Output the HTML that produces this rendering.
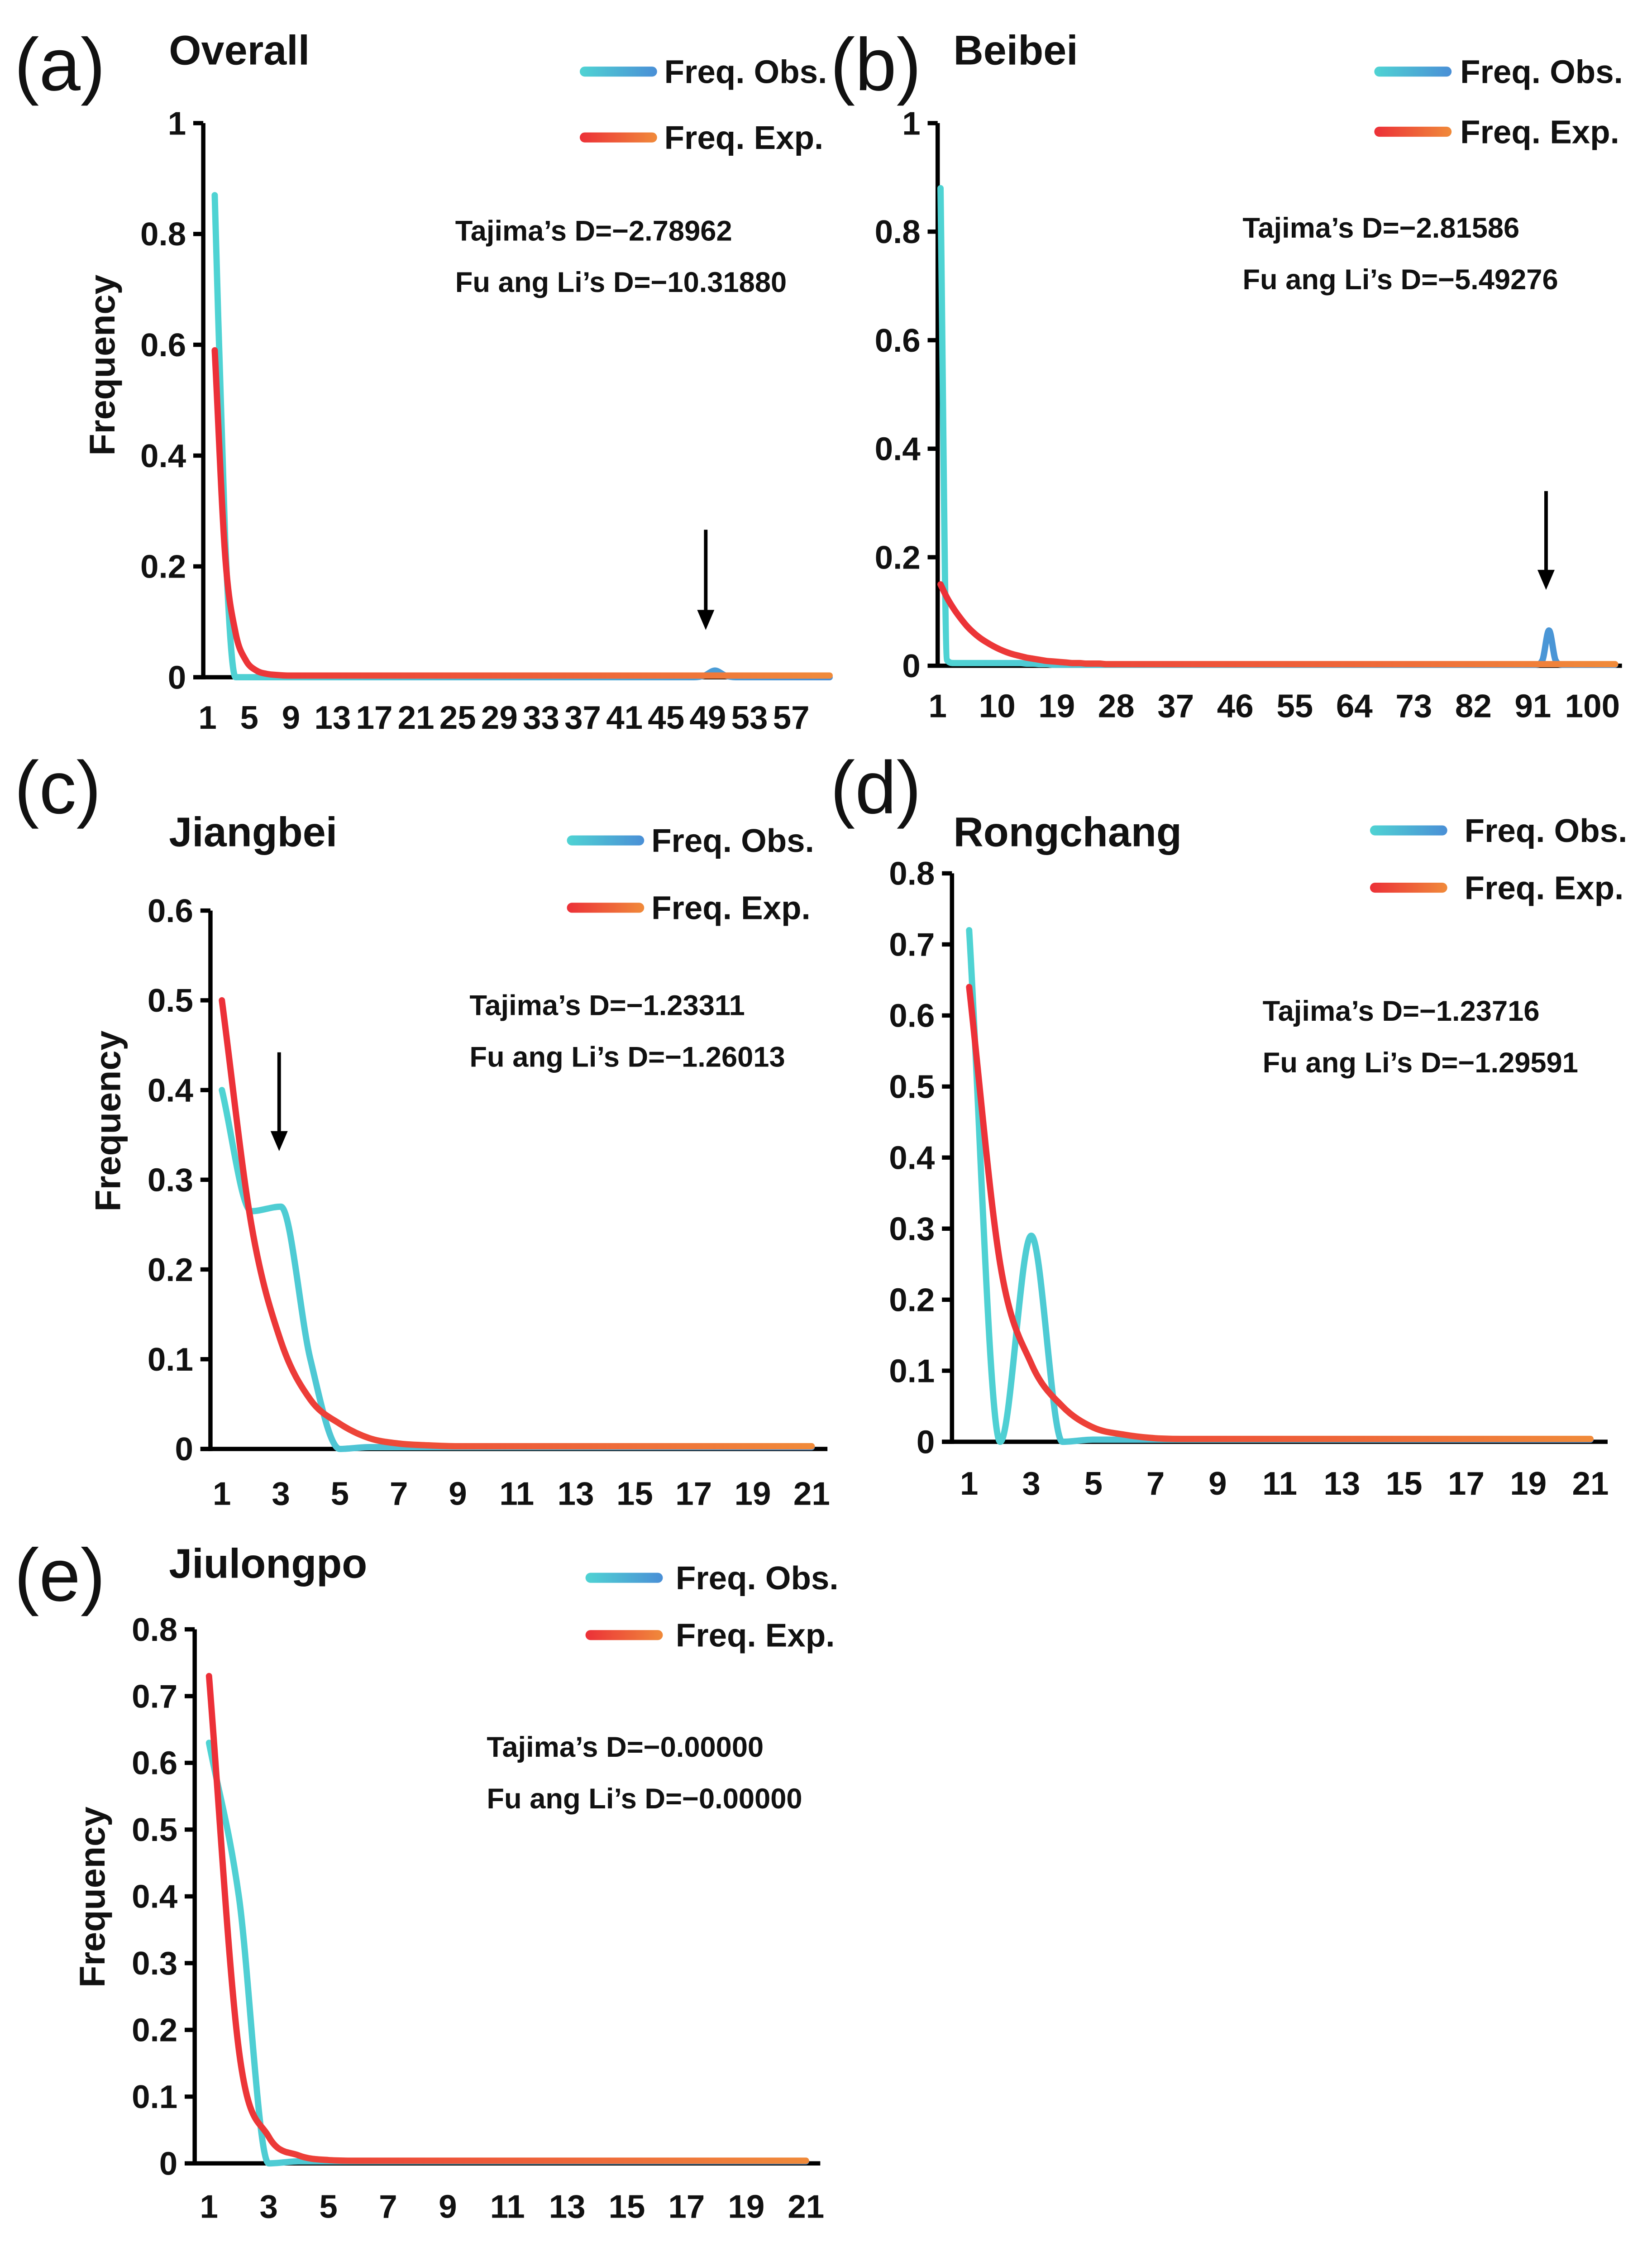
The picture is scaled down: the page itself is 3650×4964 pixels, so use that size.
<!DOCTYPE html>
<html><head><meta charset="utf-8"><style>
html,body{margin:0;padding:0;background:#fff;}
svg{display:block;}
text{font-family:"Liberation Sans",Arial,sans-serif;fill:#111;}
.tick{font-size:23px;font-weight:bold;}
.title{font-size:29px;font-weight:bold;}
.panel{font-size:52px;}
.leg{font-size:23px;font-weight:bold;}
.stat{font-size:20px;font-weight:bold;}
.ylab{font-size:25px;font-weight:bold;}
</style></head><body>
<svg id="fig" width="3650" height="4964" viewBox="0 0 1154 1569.4" preserveAspectRatio="none" xmlns="http://www.w3.org/2000/svg">
<defs>
<linearGradient id="gObs" x1="0" x2="1" y1="0" y2="0"><stop offset="0" stop-color="#4fd3d3"/><stop offset="1" stop-color="#4a8fd6"/></linearGradient>
<linearGradient id="gExp" x1="0" x2="1" y1="0" y2="0"><stop offset="0" stop-color="#ec3038"/><stop offset="1" stop-color="#f08a3a"/></linearGradient>
</defs>
</svg>
<script>
// ---- data ----
const obsA=[0.87,0.25,0,0,0,0,0,0,0,0,0,0,0,0,0,0,0,0,0,0,0,0,0,0,0,0,0,0,0,0,0,0,0,0,0,0,0,0,0,0,0,0,0,0,0,0,0,0.003,0.012,0.003,0,0,0,0,0,0,0,0,0,0];
const expA=[0.59,0.22,0.08,0.03,0.012,0.006,0.004,0.003,0.003,0.003,0.003,0.003,0.003,0.003,0.003,0.003,0.003,0.003,0.003,0.003,0.003,0.003,0.003,0.003,0.003,0.003,0.003,0.003,0.003,0.003,0.003,0.003,0.003,0.003,0.003,0.003,0.003,0.003,0.003,0.003,0.003,0.003,0.003,0.003,0.003,0.003,0.003,0.003,0.003,0.003,0.003,0.003,0.003,0.003,0.003,0.003,0.003,0.003,0.003,0.003];
const ticksXA=["1","5","9","13","17","21","25","29","33","37","41","45","49","53","57"];
const obsB=[0.88,0.01,0.005,0.005,0.005,0.005,0.005,0.005,0.005,0.005,0.005,0.005,0.005,0.004,0.004,0.003,0.003,0.002,0.002,0.002,0.002,0.002,0.002,0.002,0.002,0.002,0.002,0.002,0.002,0.002,0.002,0.002,0.002,0.002,0.002,0.002,0.002,0.002,0.002,0.002,0.002,0.002,0.002,0.002,0.002,0.002,0.002,0.002,0.002,0.002,0.002,0.002,0.002,0.002,0.002,0.002,0.002,0.002,0.002,0.002,0.002,0.002,0.002,0.002,0.002,0.002,0.002,0.002,0.002,0.002,0.002,0.002,0.002,0.002,0.002,0.002,0.002,0.002,0.002,0.002,0.002,0.002,0.002,0.002,0.002,0.002,0.002,0.002,0.002,0.002,0.002,0.01,0.065,0.01,0.002,0.002,0.002,0.002,0.002,0.002,0.002,0.002,0.002];
const expB=[0.15,0.125,0.105,0.088,0.073,0.061,0.051,0.043,0.036,0.030,0.025,0.021,0.018,0.015,0.013,0.011,0.009,0.008,0.007,0.006,0.005,0.005,0.004,0.004,0.004,0.003,0.003,0.003,0.003,0.003,0.003,0.003,0.003,0.003,0.003,0.003,0.003,0.003,0.003,0.003,0.003,0.003,0.003,0.003,0.003,0.003,0.003,0.003,0.003,0.003,0.003,0.003,0.003,0.003,0.003,0.003,0.003,0.003,0.003,0.003,0.003,0.003,0.003,0.003,0.003,0.003,0.003,0.003,0.003,0.003,0.003,0.003,0.003,0.003,0.003,0.003,0.003,0.003,0.003,0.003,0.003,0.003,0.003,0.003,0.003,0.003,0.003,0.003,0.003,0.003,0.003,0.003,0.003,0.003,0.003,0.003,0.003,0.003,0.003,0.003,0.003,0.003,0.003];
const ticksXB=["1","10","19","28","37","46","55","64","73","82","91","100"];
const obsC=[0.40,0.265,0.27,0.10,0.0,0.002,0.002,0.002,0.002,0.002,0.002,0.002,0.002,0.002,0.002,0.002,0.002,0.002,0.002,0.002,0.002];
const expC=[0.50,0.25,0.12,0.055,0.028,0.012,0.006,0.004,0.003,0.003,0.003,0.003,0.003,0.003,0.003,0.003,0.003,0.003,0.003,0.003,0.003];
const obsD=[0.72,0.0,0.29,0.0,0.003,0.003,0.003,0.003,0.003,0.003,0.003,0.003,0.003,0.003,0.003,0.003,0.003,0.003,0.003,0.003,0.003];
const expD=[0.64,0.25,0.11,0.05,0.02,0.01,0.005,0.004,0.004,0.004,0.004,0.004,0.004,0.004,0.004,0.004,0.004,0.004,0.004,0.004,0.004];
const obsE=[0.63,0.40,0.0,0.003,0.003,0.003,0.003,0.003,0.003,0.003,0.003,0.003,0.003,0.003,0.003,0.003,0.003,0.003,0.003,0.003,0.003];
const expE=[0.73,0.17,0.04,0.012,0.005,0.004,0.004,0.004,0.004,0.004,0.004,0.004,0.004,0.004,0.004,0.004,0.004,0.004,0.004,0.004,0.004];
const ticksX21=["1","3","5","7","9","11","13","15","17","19","21"];
const ticksY1=["0","0.2","0.4","0.6","0.8","1"];
const ticksY06=["0","0.1","0.2","0.3","0.4","0.5","0.6"];
const ticksY08=["0","0.1","0.2","0.3","0.4","0.5","0.6","0.7","0.8"];

const svg=document.getElementById('fig');
const NS='http://www.w3.org/2000/svg';
function mk(tag,attrs,parent){const e=document.createElementNS(NS,tag);for(const k in attrs)e.setAttribute(k,attrs[k]);(parent||svg).appendChild(e);return e;}
function txt(s,x,y,cls,anchor,parent){const t=mk('text',{x:x,y:y,class:cls,'text-anchor':anchor||'start'},parent);t.textContent=s;return t;}
function smooth(pts){ // monotone cubic
  const n=pts.length;if(n<2)return '';
  const d=[],m=[];
  for(let i=0;i<n-1;i++)d.push((pts[i+1][1]-pts[i][1])/(pts[i+1][0]-pts[i][0]));
  m[0]=d[0];m[n-1]=d[n-2];
  for(let i=1;i<n-1;i++){m[i]=(d[i-1]*d[i]<=0)?0:(d[i-1]+d[i])/2;}
  for(let i=0;i<n-1;i++){if(d[i]===0){m[i]=0;m[i+1]=0;continue;}const a=m[i]/d[i],b=m[i+1]/d[i],s=a*a+b*b;if(s>9){const t=3/Math.sqrt(s);m[i]=t*a*d[i];m[i+1]=t*b*d[i];}}
  let p='M'+pts[0][0].toFixed(2)+','+pts[0][1].toFixed(2);
  for(let i=0;i<n-1;i++){const h=(pts[i+1][0]-pts[i][0])/3;
    p+=' C'+(pts[i][0]+h).toFixed(2)+','+(pts[i][1]+h*m[i]).toFixed(2)+' '+(pts[i+1][0]-h).toFixed(2)+','+(pts[i+1][1]-h*m[i+1]).toFixed(2)+' '+pts[i+1][0].toFixed(2)+','+pts[i+1][1].toFixed(2);}
  return p;
}
function panel(c){
  const g=mk('g',{});
  
  
  const xs=v=>c.x1+(v-1)*c.ux;
  const ys=v=>c.y0-(v/c.ymax)*(c.y0-c.ytop);
  let t=txt('('+c.id+')',c.px,c.py,'panel','start',g);
  
  t=txt(c.title,c.tx,c.ty,'title','start',g);
  
  let a=mk('line',{x1:c.ax,y1:c.ytop,x2:c.ax,y2:c.y0+1.5,stroke:'#000','stroke-width':3},g);
  
  a=mk('line',{x1:c.ax-7,y1:c.y0,x2:c.xend,y2:c.y0,stroke:'#000','stroke-width':3},g);
  
  c.yt.forEach((s,i)=>{const v=parseFloat(s);const y=ys(v);
    const tk=mk('line',{x1:c.ax-7,y1:y,x2:c.ax,y2:y,stroke:'#000','stroke-width':3},g);
    
    const l=txt(s,c.ax-12,y+8,'tick','end',g);
    });
  c.xt.forEach(s=>{const v=parseInt(s);const l=txt(s,xs(v)+c.xoff,c.xly,'tick','middle',g);
    });
  if(c.ylab){const yl=txt('Frequency',0,0,'ylab','middle',g);yl.setAttribute('transform','translate('+c.ylx+','+c.yly+') rotate(-90)');
    }
  const pe=c.exp.map((v,i)=>[xs(i+1),ys(v)]);
  const po=c.obs.map((v,i)=>[xs(i+1),ys(v)]);
  let s=mk('path',{d:smooth(po),fill:'none',stroke:'url(#gObs)','stroke-width':4.4,'stroke-linejoin':'round','stroke-linecap':'round'},g);
  
  s=mk('path',{d:smooth(pe),fill:'none',stroke:'url(#gExp)','stroke-width':4.4,'stroke-linejoin':'round','stroke-linecap':'round'},g);
  
  let l=mk('rect',{x:c.lx,y:c.ly1-3.5,width:54,height:7,rx:3.5,fill:'url(#gObs)'},g);
  
  l=txt('Freq. Obs.',c.lx+c.ltx,c.ly1+8,'leg','start',g);
  
  l=mk('rect',{x:c.lx,y:c.ly2-3.5,width:54,height:7,rx:3.5,fill:'url(#gExp)'},g);
  
  l=txt('Freq. Exp.',c.lx+c.ltx,c.ly2+8,'leg','start',g);
  
  l=txt("Tajima\u2019s D=\u2212"+c.taj,c.sx,c.sy,'stat','start',g);
  
  l=txt("Fu ang Li\u2019s D=\u2212"+c.fu,c.sx,c.sy+36,'stat','start',g);
  
  if(c.arrow){const [x,y1,y2]=c.arrow;
    const ar=mk('g',{},g);
    mk('line',{x1:x,y1:y1,x2:x,y2:y2-10,stroke:'#000','stroke-width':2.5},ar);
    mk('polygon',{points:(x-6)+','+(y2-14)+' '+(x+6)+','+(y2-14)+' '+x+','+y2,fill:'#000'},ar);}
}
panel({id:'a',title:'Overall',px:10,py:63,tx:118,ty:45,ax:142,ytop:86,y0:473,ymax:1,x1:150,ux:7.28,xend:578,xoff:-5,xly:509,
  yt:ticksY1,xt:ticksXA,ylab:true,ylx:80,yly:255,obs:obsA,exp:expA,lx:405,ly1:50,ly2:96,ltx:59,sx:318,sy:168,taj:'2.78962',fu:'10.31880',arrow:[493,370,440]});
panel({id:'b',title:'Beibei',px:580,py:63,tx:666,ty:45,ax:655,ytop:86,y0:465,ymax:1,x1:657,ux:4.62,xend:1133,xoff:-2,xly:501,
  yt:ticksY1,xt:ticksXB,ylab:false,obs:obsB,exp:expB,lx:960,ly1:50,ly2:92,ltx:60,sx:868,sy:166,taj:'2.81586',fu:'5.49276',arrow:[1080,343,412]});
panel({id:'c',title:'Jiangbei',px:10,py:568,tx:118,ty:591,ax:147,ytop:636,y0:1012,ymax:0.6,x1:155,ux:20.6,xend:578,xoff:0,xly:1051,
  yt:ticksY06,xt:ticksX21,ylab:true,ylx:84,yly:783,obs:obsC,exp:expC,lx:396,ly1:587,ly2:634,ltx:59,sx:328,sy:709,taj:'1.23311',fu:'1.26013',arrow:[195,735,804]});
panel({id:'d',title:'Rongchang',px:580,py:568,tx:666,ty:591,ax:665,ytop:610,y0:1007,ymax:0.8,x1:677,ux:21.7,xend:1123,xoff:0,xly:1044,
  yt:ticksY08,xt:ticksX21,ylab:false,obs:obsD,exp:expD,lx:957,ly1:580,ly2:620,ltx:66,sx:882,sy:713,taj:'1.23716',fu:'1.29591'});
panel({id:'e',title:'Jiulongpo',px:10,py:1118,tx:118,ty:1102,ax:136,ytop:1138,y0:1511,ymax:0.8,x1:146,ux:20.85,xend:573,xoff:0,xly:1549,
  yt:ticksY08,xt:ticksX21,ylab:true,ylx:73,yly:1325,obs:obsE,exp:expE,lx:409,ly1:1102,ly2:1142,ltx:63,sx:340,sy:1227,taj:'0.00000',fu:'0.00000'});
</script>
</body></html>
